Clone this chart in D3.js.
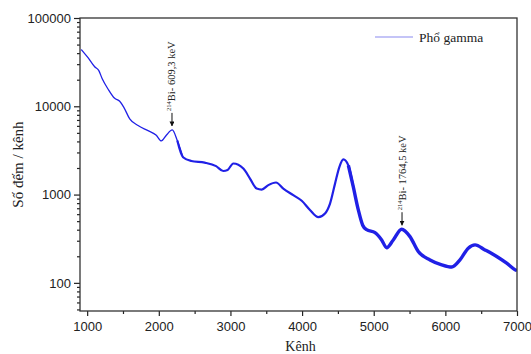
<!DOCTYPE html>
<html>
<head>
<meta charset="utf-8">
<script src="https://cdn.jsdelivr.net/npm/d3@7"></script>
<style>
    body { margin: 0; background: #fff; }
    svg { display: block; font-family: 'Liberation Serif', 'DejaVu Serif', serif; }
    .tick text { font-size: 13px; fill: #222; }
</style>
</head>
<body>
<svg id="chart" width="531" height="354"></svg>
<script>
// kênh (channel) and số đếm (counts)
const channels = [918, 1012, 1105, 1161, 1210, 1291, 1384, 1454, 1510, 1594, 1710, 1850, 1965, 2035, 2105, 2188, 2258, 2338, 2454, 2640, 2800, 2900, 2960, 3040, 3180, 3273, 3366, 3436, 3529, 3636, 3738, 3877, 3995, 4110, 4227, 4320, 4390, 4460, 4520, 4576, 4646, 4715, 4785, 4846, 4901, 5018, 5111, 5181, 5273, 5390, 5506, 5622, 5786, 5949, 6089, 6204, 6320, 6414, 6553, 6717, 6856, 6972, 7000]
const counts = [44000, 35500, 28000, 25500, 20500, 15700, 12300, 11400, 9800, 7200, 6050, 5300, 4700, 4050, 4700, 5400, 4100, 2650, 2400, 2300, 2100, 1850, 1900, 2250, 1970, 1520, 1170, 1140, 1280, 1370, 1170, 985, 850, 670, 555, 610, 790, 1330, 2050, 2500, 2140, 1220, 670, 450, 400, 370, 306, 250, 306, 405, 334, 226, 182, 160, 151, 182, 247, 269, 236, 199, 167, 141, 138]

const xTicks = [1000, 2000, 3000, 4000, 5000, 6000, 7000]
const yTicks = [100, 1000, 10000, 100000]

const peakChannels = [2184, 5395]
const peakIsotope = ['214', '214']
const peakLabels = ['Bi- 609,3 keV', 'Bi- 1764,5 keV']

const seriesName = 'Phổ gamma'

const svg = d3.select('#chart')
const margin = { left: 80, right: 14, top: 18, bottom: 43 }
const width = 531, height = 354

const x = d3.scaleLinear().domain([900, 7000]).range([margin.left, width - margin.right])
const y = d3.scaleLog().domain([48, 100000]).range([height - margin.bottom, margin.top])

const data = channels.map((c, i) => ({ c, v: counts[i] }))

// the spectrum gets noisier (thicker) at higher channels
const bands = [
    { from: 900, to: 2300, w: 1.3 },
    { from: 2300, to: 4700, w: 2.2 },
    { from: 4700, to: 7000, w: 3.4 }
]
const line = d3.line().x(d => x(d.c)).y(d => y(d.v)).curve(d3.curveMonotoneX)

const clip = svg.append('clipPath').attr('id', 'plot-clip')
clip.append('rect')
    .attr('x', margin.left).attr('y', margin.top)
    .attr('width', x.range()[1] - margin.left)
    .attr('height', y.range()[0] - margin.top)

const lineLayer = svg.append('g').attr('clip-path', 'url(#plot-clip)')
bands.forEach(b => {
    const lo = d3.max(channels.filter(c => c <= b.from)) ?? channels[0]
    const hi = d3.min(channels.filter(c => c >= b.to)) ?? channels[channels.length - 1]
    lineLayer.append('path')
        .datum(data.filter(d => d.c >= lo && d.c <= hi))
        .attr('fill', 'none')
        .attr('stroke', '#2020e6')
        .attr('stroke-width', b.w)
        .attr('stroke-linejoin', 'round')
        .attr('d', line)
})

// axes
const xMinor = d3.range(1500, 7000, 1000)
svg.append('g')
    .attr('transform', `translate(0,${y.range()[0]})`)
    .call(d3.axisBottom(x).tickValues(xMinor).tickSize(3).tickFormat(''))
    .call(g => g.select('.domain').remove())
svg.append('g')
    .attr('transform', `translate(0,${y.range()[0]})`)
    .call(d3.axisBottom(x).tickValues(xTicks).tickSize(5).tickPadding(6).tickFormat(d3.format('d')))
    .call(g => g.select('.domain').remove())

const yMinor = []
for (let p = 10; p <= 100000; p *= 10) {
    for (let k = 2; k <= 9; k++) {
        const v = p * k
        if (v >= y.domain()[0] && v <= y.domain()[1]) yMinor.push(v)
    }
}
svg.append('g')
    .attr('transform', `translate(${margin.left},0)`)
    .call(d3.axisLeft(y).tickValues(yMinor).tickSize(3).tickFormat(''))
    .call(g => g.select('.domain').remove())
svg.append('g')
    .attr('transform', `translate(${margin.left},0)`)
    .call(d3.axisLeft(y).tickValues(yTicks).tickSize(6).tickPadding(3).tickFormat(d3.format('d')))
    .call(g => g.select('.domain').remove())

svg.selectAll('.tick line').attr('stroke', '#222').attr('stroke-width', 1.2)

// frame
svg.append('rect')
    .attr('x', margin.left).attr('y', margin.top)
    .attr('width', x.range()[1] - margin.left)
    .attr('height', y.range()[0] - margin.top)
    .attr('fill', 'none')
    .attr('stroke', '#333')
    .attr('stroke-width', 1.3)

// axis titles
svg.append('text')
    .attr('x', (x.range()[0] + x.range()[1]) / 2 + 2)
    .attr('y', 351)
    .attr('text-anchor', 'middle')
    .attr('font-size', 14)
    .attr('fill', '#222')
    .text('Kênh')

svg.append('text')
    .attr('transform', `translate(23,${(y.range()[0] + y.range()[1]) / 2}) rotate(-90)`)
    .attr('text-anchor', 'middle')
    .attr('font-size', 15)
    .attr('fill', '#222')
    .text('Số đếm / kênh')

// legend
svg.append('line')
    .attr('x1', 375).attr('x2', 413).attr('y1', 37).attr('y2', 37)
    .attr('stroke', '#8a8af0').attr('stroke-width', 1.2)
svg.append('text')
    .attr('x', 419).attr('y', 42)
    .attr('font-size', 13.5)
    .attr('fill', '#222')
    .text(seriesName)

// peak annotations
const defs = svg.append('defs')
defs.append('marker')
    .attr('id', 'arrow')
    .attr('viewBox', '0 0 10 10')
    .attr('refX', 9).attr('refY', 5)
    .attr('markerWidth', 5).attr('markerHeight', 5)
    .attr('orient', 'auto')
    .append('path')
    .attr('d', 'M0,0 L10,5 L0,10 z')
    .attr('fill', '#111')

const peakValue = c => {
    const i = d3.bisector(d => d.c).center(data, c)
    return data[i].v
}

peakChannels.forEach((c, i) => {
    const px = x(c)
    const tip = y(peakValue(c)) - 4
    const top = tip - 13
    svg.append('line')
        .attr('x1', px).attr('x2', px)
        .attr('y1', top).attr('y2', tip)
        .attr('stroke', '#111').attr('stroke-width', 1)
        .attr('marker-end', 'url(#arrow)')
    const t = svg.append('text')
        .attr('transform', `translate(${px + 3.5},${top - 2}) rotate(-90)`)
        .attr('font-size', 10.5)
        .attr('fill', '#222')
    t.append('tspan').attr('font-size', 6.5).attr('dy', -4).text(peakIsotope[i])
    t.append('tspan').attr('dy', 4).text(peakLabels[i])
})
</script>
</body>
</html>
